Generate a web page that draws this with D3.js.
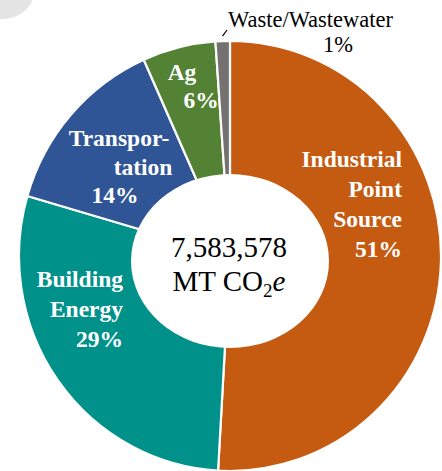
<!DOCTYPE html>
<html>
<head>
<meta charset="utf-8">
<script src="https://cdn.jsdelivr.net/npm/d3@7"></script>
<style>
  body { margin: 0; background: #fff; }
</style>
</head>
<body>
<div id="chart"></div>
<script>
// shares of total emissions (%)
var categories = ["Industrial Point Source", "Building Energy", "Transportation", "Ag", "Waste/Wastewater"];
var shares = [50.9, 28.6, 13.8, 5.6, 1.1];
var colors = ["#C55A11", "#00918A", "#2F5597", "#548235", "#767171"];
var labelLines = [["Industrial", "Point", "Source"], ["Building", "Energy"], ["Transpor-", "tation"], ["Ag"], ["Waste/Wastewater"]];
var totalText = "7,583,578";

// where each label line sits (last line is the percentage)
var labelLayout = [
  {anchor: "end",    xs: [402, 402, 402, 402], ys: [167, 197, 227, 257], fill: "#fff", weight: "bold", size: 23.5},
  {anchor: "end",    xs: [123, 123, 123],      ys: [287, 317, 347],      fill: "#fff", weight: "bold", size: 23.5},
  {anchor: "middle", xs: [119, 143, 115],      ys: [146, 175, 203],      fill: "#fff", weight: "bold", size: 23.5},
  {anchor: "middle", xs: [182, 201],           ys: [80, 108],            fill: "#fff", weight: "bold", size: 23.5},
  {anchor: "start",  xs: [228, 323],           ys: [27, 52],             fill: "#000", weight: "normal", size: 22.5}
];

var width = 442, height = 471;
var cx = 230, cy = 256, rx = 211, ry = 215;
var serif = "'Liberation Serif', 'Times New Roman', serif";

var svg = d3.select("#chart")
  .append("svg")
    .attr("width", width)
    .attr("height", height)
    .attr("font-family", serif);

// grey corner blob from the screenshot
svg.append("ellipse")
  .attr("cx", 2).attr("cy", -8)
  .attr("rx", 32).attr("ry", 27)
  .attr("fill", "#e4e4e4");

var pie = d3.pie().sort(null).value(function(d) { return d; });
var arc = d3.arc().innerRadius(60).outerRadius(rx);

var g = svg.append("g")
  .attr("transform", "translate(" + cx + "," + cy + ") scale(1," + (ry / rx) + ")");

g.selectAll("path")
  .data(pie(shares))
  .enter()
  .append("path")
    .attr("d", arc)
    .attr("fill", function(d, i) { return colors[i]; })
    .attr("stroke", "#fff")
    .attr("stroke-width", 2.2)
    .attr("vector-effect", "non-scaling-stroke");

// white oval with the total
svg.append("ellipse")
  .attr("cx", 230).attr("cy", 261)
  .attr("rx", 99).attr("ry", 87)
  .attr("fill", "#fff");

svg.append("text")
  .attr("x", 229).attr("y", 257)
  .attr("text-anchor", "middle")
  .style("font-size", "29px")
  .text(totalText);

var unit = svg.append("text")
  .attr("x", 229).attr("y", 291)
  .attr("text-anchor", "middle")
  .style("font-size", "29px");
unit.append("tspan").text("MT CO");
unit.append("tspan").attr("dy", 6).style("font-size", "19px").text("2");
unit.append("tspan").attr("dy", -6).style("font-style", "italic").text("e");

// slice labels
categories.forEach(function(c, i) {
  var lay = labelLayout[i];
  var lines = labelLines[i].concat([Math.round(shares[i]) + "%"]);
  var t = svg.append("text")
    .attr("text-anchor", lay.anchor)
    .attr("fill", lay.fill)
    .style("font-weight", lay.weight)
    .style("font-size", lay.size + "px");
  lines.forEach(function(s, j) {
    t.append("tspan").attr("x", lay.xs[j]).attr("y", lay.ys[j]).text(s);
  });
});

// leader line for the small slice
var w = pie(shares)[4];
var a = (w.startAngle + w.endAngle) / 2;
svg.append("line")
  .attr("x1", cx + Math.sin(a) * (rx + 6)).attr("y1", cy - Math.cos(a) * (ry + 5))
  .attr("x2", 227).attr("y2", 30)
  .attr("stroke", "#000")
  .attr("stroke-width", 1.2);
</script>
</body>
</html>
